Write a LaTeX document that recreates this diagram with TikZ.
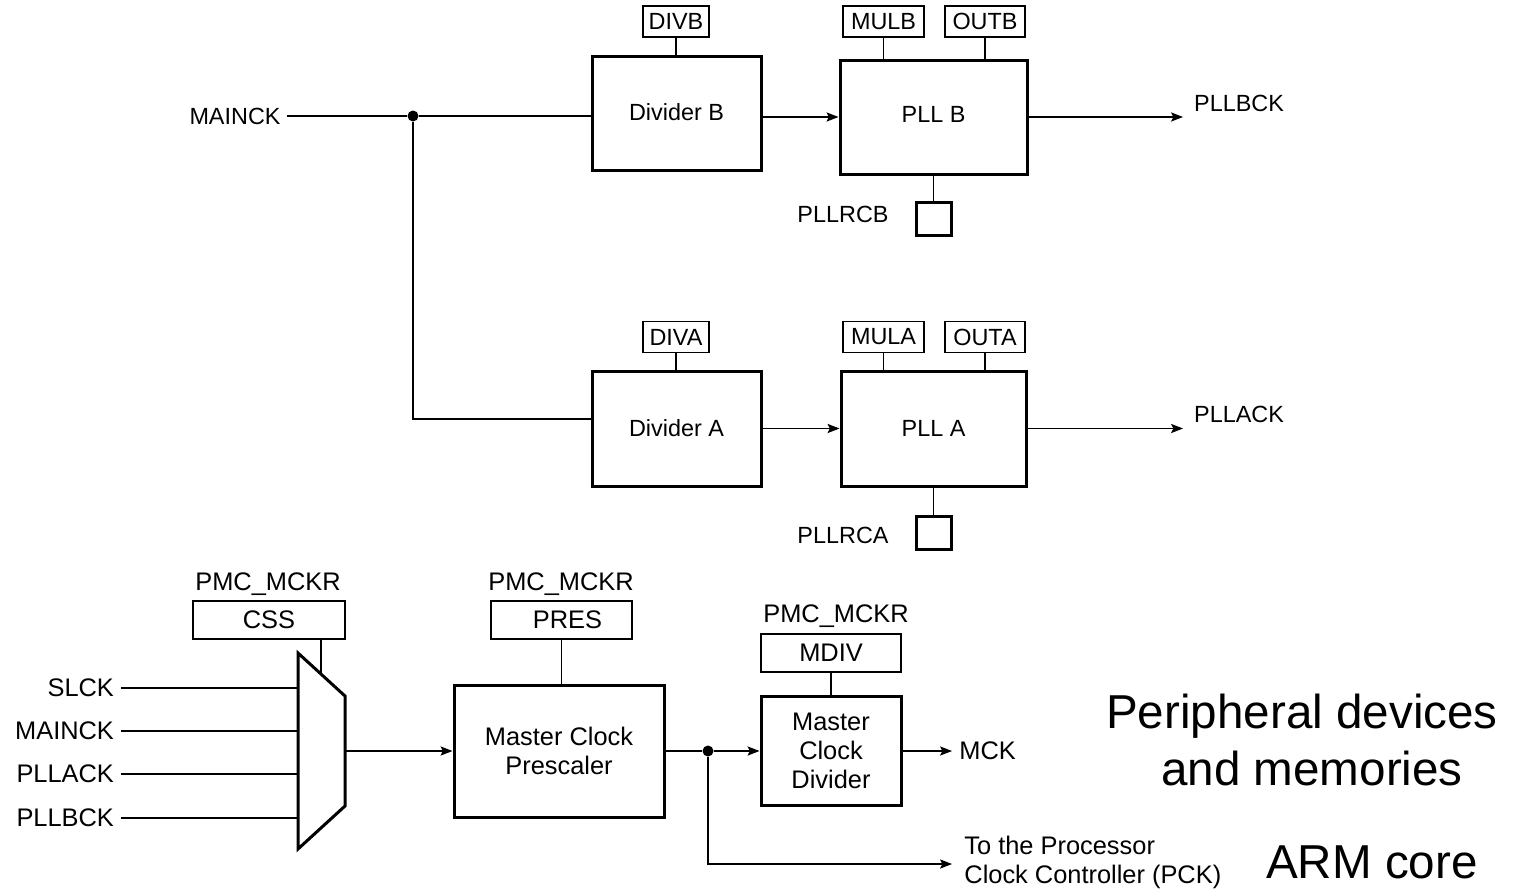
\documentclass[tikz,border=0pt]{standalone}
\usepackage{fontspec}
\setmainfont{Liberation Sans}
\usetikzlibrary{arrows.meta}
\begin{document}
\begin{tikzpicture}[x=0.5pt,y=-0.5pt,
  wire/.style={line width=0.6pt},
  arr/.style={line width=0.6pt,-{Stealth[length=6pt,width=4.6pt,inset=1.2pt]}},
  bigbox/.style={draw,line width=1.5pt,inner sep=0pt,align=center},
  reg/.style={draw,line width=0.6pt,inner sep=0pt,minimum height=15.5pt,font=\fontsize{11.7}{14}\selectfont},
  regb/.style={draw,line width=1pt,inner sep=0pt,minimum height=19pt,font=\fontsize{12.7}{14.5}\selectfont},
  topf/.style={font=\fontsize{11.7}{14}\selectfont},
  botf/.style={font=\fontsize{12.7}{14.5}\selectfont},
  bigf/.style={font=\fontsize{23.8}{28.5}\selectfont},
  rcbox/.style={draw,line width=1.5pt,inner sep=0pt,minimum width=17.5pt,minimum height=16.5pt},
  junction/.style={circle,fill,inner sep=0pt,minimum size=5.5pt}
]
\useasboundingbox (0,0) rectangle (1513,889);

% ---------- top part ----------
\node[topf,inner sep=3pt] (mainck) at (235,116) {MAINCK};
\node[junction] (d1) at (413,116) {};

\node[bigbox,topf,minimum width=84.5pt,minimum height=57pt] (divb) at (676.5,113) {\raisebox{1pt}{Divider B}};
\node[bigbox,topf,minimum width=93.5pt,minimum height=57pt] (pllb) at (933.5,117) {\raisebox{3pt}{PLL B}};
\node[bigbox,topf,minimum width=84.5pt,minimum height=57.5pt] (diva) at (676.5,428.5) {Divider A};
\node[bigbox,topf,minimum width=92.5pt,minimum height=57.5pt] (plla) at (933.5,428.5) {PLL A};

\node[reg,minimum width=33pt] (divbr) at (676,21.5) {DIVB};
\node[reg,minimum width=40.5pt] (mulbr) at (883.5,21.5) {MULB};
\node[reg,minimum width=40pt] (outbr) at (985,21.5) {OUTB};
\node[reg,minimum width=33pt] (divar) at (676,337) {DIVA};
\node[reg,minimum width=40.5pt] (mular) at (883.5,337) {MULA};
\node[reg,minimum width=40pt] (outar) at (985,337) {OUTA};

\node[rcbox] (rcb) at (933.5,218.5) {};
\node[rcbox] (rca) at (933.5,533) {};
\node[topf] (rcbl) at (843,214) {PLLRCB};
\node[topf] (rcal) at (843,535) {PLLRCA};

\coordinate (bend) at (1183,117);
\coordinate (aend) at (1183,428.5);
\node[topf] (pllbck) at (1239,103) {PLLBCK};
\node[topf] (pllack) at (1239,414) {PLLACK};

\draw[wire] (mainck.east) -- (d1) -- (d1 -| divb.west);
\draw[wire] (d1) |- ([yshift=4.75pt]diva.west);
\draw[arr] (pllb.west -| divb.east) -- (pllb.west);
\draw[arr] (diva.east) -- (plla.west);
\draw[arr] (pllb.east) -- (bend);
\draw[arr] (plla.east) -- (aend);

\draw[wire] (divbr.south) -- (divbr.south |- divb.north);
\draw[wire] (mulbr.south) -- (mulbr.south |- pllb.north);
\draw[wire] (outbr.south) -- (outbr.south |- pllb.north);
\draw[wire] (divar.south) -- (divar.south |- diva.north);
\draw[wire] (mular.south) -- (mular.south |- plla.north);
\draw[wire] (outar.south) -- (outar.south |- plla.north);
\draw[wire] (pllb.south) -- (rcb.north);
\draw[wire] (plla.south) -- (rca.north);

% ---------- bottom part ----------
\node[botf] (pm1) at (268,584) {PMC\_MCKR};
\node[botf] (pm2) at (561,584) {PMC\_MCKR};
\node[botf] (pm3) at (836,616) {PMC\_MCKR};
\node[regb,minimum width=76pt] (css) at (269,620) {CSS};
\node[regb,minimum width=70.5pt] (pres) at (561.5,620) {\hspace{6pt}PRES};
\node[regb,minimum width=70pt] (mdiv) at (831,653) {MDIV};

\node[bigbox,botf,minimum width=105pt,minimum height=66pt] (presc) at (559,751) {Master Clock\\Prescaler};
\node[bigbox,botf,minimum width=70pt,minimum height=54.5pt] (mcd) at (831,751) {Master\\Clock\\Divider};

% multiplexer
\draw[line width=1.5pt,line join=miter] (298,653) -- (345,696) -- (345,806) -- (298,849) -- cycle;
\coordinate (muxl) at (298,751);
\coordinate (muxout) at (345,751);
\coordinate (muxsel) at (321,674);

\node[botf,anchor=east] (slck) at (121,688) {SLCK};
\node[botf,anchor=east] (mck2) at (121,731) {MAINCK};
\node[botf,anchor=east] (pa) at (121,774) {PLLACK};
\node[botf,anchor=east] (pb) at (121,818) {PLLBCK};
\draw[wire] (slck.east) -- (slck.east -| muxl);
\draw[wire] (mck2.east) -- (mck2.east -| muxl);
\draw[wire] (pa.east) -- (pa.east -| muxl);
\draw[wire] (pb.east) -- (pb.east -| muxl);
\draw[wire] (css.south -| muxsel) -- (muxsel);
\draw[arr] (muxout) -- (presc.west);
\draw[wire] (pres.south) -- (pres.south |- presc.north);
\draw[wire] (mdiv.south) -- (mcd.north);

\node[junction] (d2) at (708,751) {};
\draw[wire] (presc.east) -- (d2);
\draw[arr] (d2) -- (mcd.west);
\coordinate (mckend) at (952,751);
\coordinate (pckend) at (952,864);
\draw[arr] (mcd.east) -- (mckend);
\draw[arr] (d2) |- (pckend);
\node[botf,anchor=west,inner sep=0pt] (mcklbl) at (959,751) {MCK};
\node[botf,anchor=west,align=left,inner sep=0pt] (pcklbl) at (964,862) {To the Processor\\Clock Controller (PCK)};

\node[bigf,align=center] (periph) at (1302,740) {Peripheral devices\\\hspace*{10pt}and memories};
\node[bigf] (arm) at (1372,862) {ARM core};
\end{tikzpicture}
\end{document}
